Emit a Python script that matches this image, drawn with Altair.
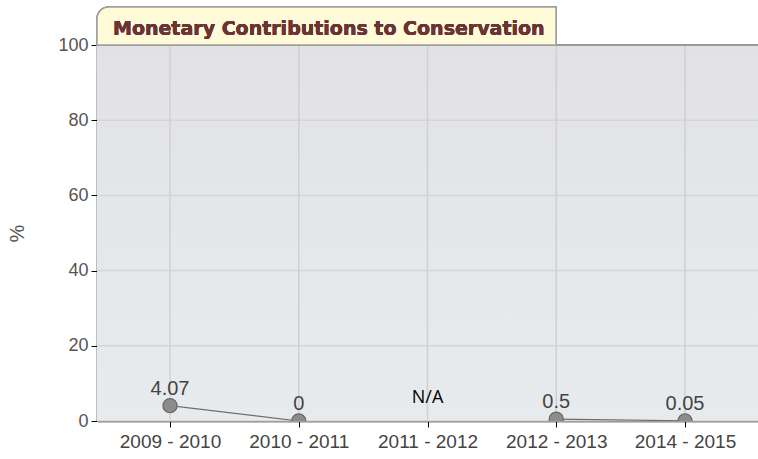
import altair as alt
import pandas as pd

categories = ["2009 - 2010", "2010 - 2011", "2011 - 2012", "2012 - 2013", "2014 - 2015"]
values = [4.07, 0.0, None, 0.5, 0.05]
labels = ["4.07", "0", "N/A", "0.5", "0.05"]
label_kind = ["value", "value", "na", "value", "value"]
title_text = "Monetary Contributions to Conservation"
y_ticks = [0, 20, 40, 60, 80, 100]

df = pd.DataFrame({"cat": categories, "val": values, "label": labels, "kind": label_kind})
df["label_y"] = df["val"].fillna(0)
grid_df = pd.DataFrame({"label_y": y_ticks})

W, H = 661, 376

x_sc = alt.Scale(type="point", padding=0.567)
y_scale = alt.Scale(domain=[0, 100], nice=False)

x_axis = alt.Axis(title=None, labelAngle=0, labelColor="#444444", labelFontSize=19,
                  labelFont="Liberation Sans", domainColor="#000000", domainWidth=1.5,
                  tickColor="#000000", tickSize=6, labelPadding=5, grid=False)
y_axis = alt.Axis(title="%", values=y_ticks, labelColor="#555555", labelFontSize=18,
                  labelFont="Liberation Sans", titleColor="#555555", titleFontSize=20,
                  titleFont="Liberation Sans", titleFontWeight="normal",
                  domainColor="#000000", domainWidth=1.5, tickColor="#000000", tickSize=6,
                  grid=False, labelPadding=3)

X = alt.X("cat:N", sort=categories, scale=x_sc, axis=x_axis)
Y = alt.Y("label_y:Q", scale=y_scale, axis=y_axis)
Yv = alt.Y("val:Q", scale=y_scale, axis=y_axis)

bg = alt.Chart(df).mark_rect(
    fill=alt.Gradient(gradient="linear", x1=0, x2=0, y1=0, y2=1,
                      stops=[alt.GradientStop(color="#e2e2e4", offset=0),
                             alt.GradientStop(color="#e8ebee", offset=1)])
).encode(x=alt.value(0), x2=alt.value(W), y=alt.value(0), y2=alt.value(H))

axes = alt.Chart(df).mark_point(opacity=0).encode(x=X, y=Y)

hgrid = alt.Chart(grid_df).mark_rule(color="#d4d5d8", strokeWidth=1.5).encode(y=Y)

vgrid = alt.Chart(df).mark_rule(color="#d0d0d2", strokeWidth=1.5).encode(x=X)

line = alt.Chart(df).mark_line(color="#6e6e6e", strokeWidth=1.2, clip=True,
                               invalid="break-paths-show-domains").encode(x=X, y=Yv)

pts = alt.Chart(df).mark_circle(size=200, color="#8c8c8c", stroke="#666666", strokeWidth=1.2,
                                opacity=1, clip=True).encode(x=X, y=Yv)

txt = alt.Chart(df).transform_filter(alt.datum.kind == "value").mark_text(
    baseline="bottom", dy=-7, fontSize=20, font="Liberation Sans", color="#444444").encode(
    x=X, y=Y, text="label:N")

na_txt = alt.Chart(df).transform_filter(alt.datum.kind == "na").mark_text(
    baseline="bottom", dy=-14, fontSize=18, font="Open Sans", color="#000000").encode(
    x=X, y=Y, text="label:N")

top_border = alt.Chart(df).mark_rule(color="#9a9a9a", strokeWidth=2).encode(
    x=alt.value(0), x2=alt.value(W), y=alt.value(0))

tab = alt.Chart(df).mark_rect(fill="#fffbd9", stroke="#a0a0a0", strokeWidth=1.5,
                              cornerRadiusTopLeft=12, clip=False).encode(
    x=alt.value(0), x2=alt.value(459), y=alt.value(-38), y2=alt.value(0))

title = alt.Chart(df).mark_text(text=title_text, align="left", baseline="middle",
                                font="DejaVu Sans", fontWeight="bold", fontSize=19,
                                color="#6b3434").encode(x=alt.value(16), y=alt.value(-16))

chart = alt.layer(bg, axes, hgrid, vgrid, line, pts, txt, na_txt, top_border, tab, title).properties(
    width=W, height=H,
    autosize=alt.AutoSizeParams(type="none"),
    padding={"left": 97, "top": 45, "right": 0, "bottom": 38},
).configure_view(stroke=None).configure_axisY(
    titleAngle=-90, titleX=-80, titleBaseline="middle")

chart.save("out.html", embed_options={"renderer": "svg", "actions": False})
